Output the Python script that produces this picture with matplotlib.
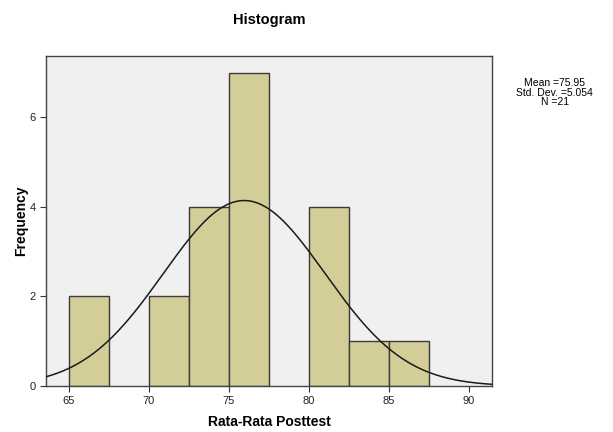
import numpy as np
import matplotlib
matplotlib.use("Agg")
import matplotlib.pyplot as plt

# bin edges (width 2.5) and counts
bin_edges = [65, 67.5, 70, 72.5, 75, 77.5, 80, 82.5, 85, 87.5]
counts = [2, 0, 2, 4, 7, 0, 4, 1, 1]
mean = 75.95
std = 5.054
n = 21

plt.rcParams['font.family'] = ['Liberation Sans', 'DejaVu Sans']

fig = plt.figure(figsize=(6.13, 4.32), dpi=100)
ax = fig.add_axes([0.075, 0.1065, 0.7276, 0.7635])
ax.set_facecolor('#F0F0F0')

widths = np.diff(bin_edges)
for left, w, c in zip(bin_edges[:-1], widths, counts):
    if c > 0:
        ax.bar(left, c, width=w, align='edge', color='#D3CE98',
               edgecolor='#3a3a3a', linewidth=1.0, zorder=2)

x = np.linspace(63.5, 91.5, 400)
bw = 2.5
y = n * bw / (std * np.sqrt(2 * np.pi)) * np.exp(-0.5 * ((x - mean) / std) ** 2)
ax.plot(x, y, color='#1a1a1a', linewidth=1.1, zorder=3)

ax.set_xlim(63.56, 91.44)
ax.set_ylim(0, 7.37)
ax.set_xticks([65, 70, 75, 80, 85, 90])
ax.set_yticks([0, 2, 4, 6])
ax.tick_params(labelsize=8, length=4, color='#333333', labelcolor='#222222')
for s in ax.spines.values():
    s.set_color('#444444')
    s.set_linewidth(1.0)

ax.set_xlabel('Rata-Rata Posttest', fontsize=10, fontweight='bold', labelpad=6)
ax.set_ylabel('Frequency', fontsize=10, fontweight='bold', labelpad=1)
fig.text(0.4385, 0.953, 'Histogram', ha='center', va='center',
         fontsize=10.5, fontweight='bold')

fig.text(0.905, 0.785, f'Mean ={mean}\nStd. Dev. ={std}\nN ={n}',
         ha='center', va='center', fontsize=7.5, linespacing=0.95)

fig.savefig('out.png', dpi=100)
